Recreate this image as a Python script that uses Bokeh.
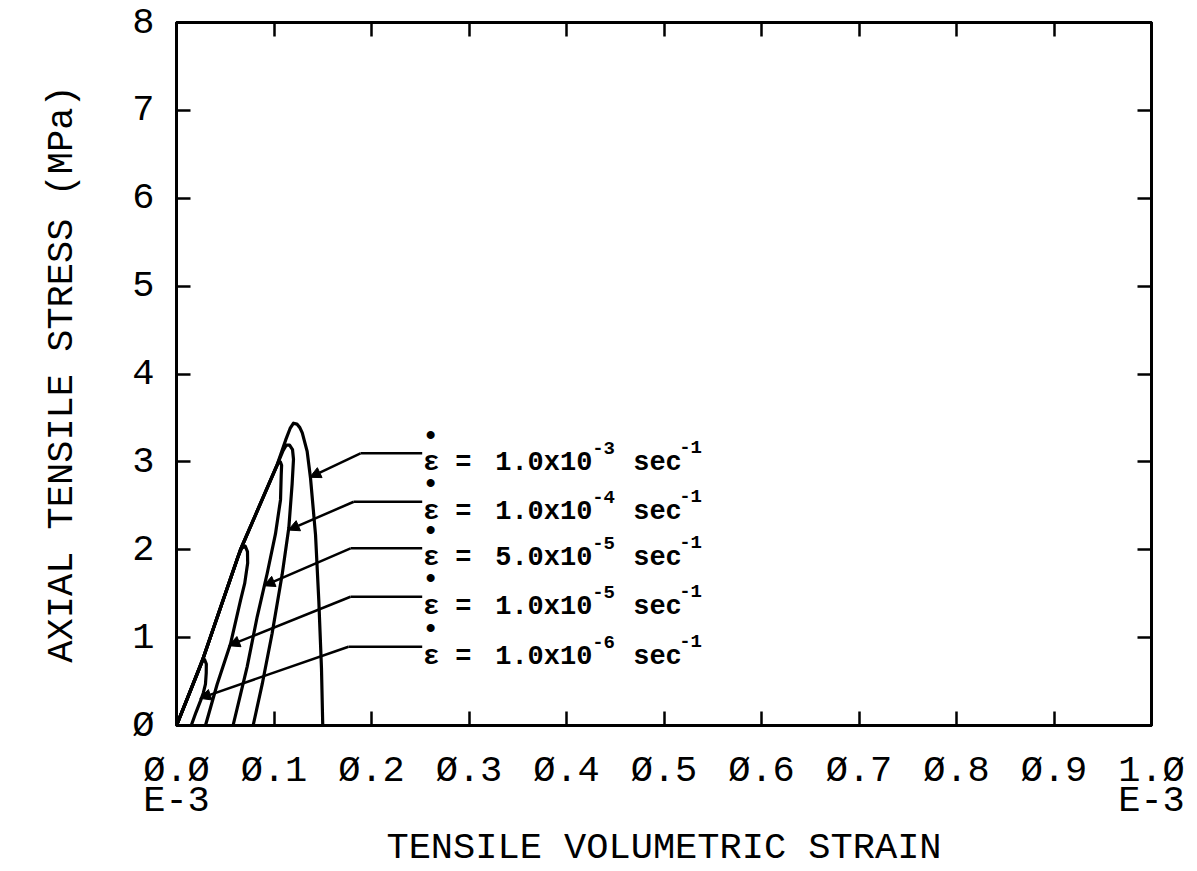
from bokeh.plotting import figure
from bokeh.models import (LinearAxis, FixedTicker, Range1d, Arrow,
                          NormalHead, ColumnDataSource)
from bokeh.core.properties import value
from bokeh.embed import file_html
from bokeh.resources import INLINE

# ---------------- data ----------------
x_ticks = [0.0, 0.1, 0.2, 0.3, 0.4, 0.5, 0.6, 0.7, 0.8, 0.9, 1.0]
x_tick_labels = ["Ø.Ø", "Ø.1", "Ø.2", "Ø.3", "Ø.4", "Ø.5",
                 "Ø.6", "Ø.7", "Ø.8", "Ø.9", "1.Ø"]
x_scale_note = "E-3"
y_ticks = [0, 1, 2, 3, 4, 5, 6, 7, 8]
y_tick_labels = ["Ø", "1", "2", "3", "4", "5", "6", "7", "8"]

# strain (x1e-3) / stress (MPa) loops, one per strain rate
strain_1e3 = [0.0, 0.0263, 0.0656, 0.1033, 0.1120, 0.1165, 0.1200, 0.1235,
              0.1265, 0.1290, 0.1340, 0.1374, 0.1426, 0.1460, 0.1487, 0.1500]
stress_1e3 = [0.0, 0.73, 2.00, 2.97, 3.25, 3.38, 3.44, 3.43,
              3.39, 3.33, 3.12, 2.82, 2.17, 1.41, 0.65, 0.0]

strain_1e4 = [0.0, 0.0263, 0.0656, 0.1033, 0.1090, 0.1125, 0.1160, 0.1190,
              0.1200, 0.1186, 0.1152, 0.1084, 0.0981, 0.0879, 0.0786]
stress_1e4 = [0.0, 0.73, 2.00, 2.97, 3.12, 3.19, 3.19, 3.14,
              3.03, 2.75, 2.25, 1.72, 1.05, 0.47, 0.0]

strain_5e5 = [0.0, 0.0263, 0.0656, 0.1000, 0.1040, 0.1065, 0.1078, 0.1074,
              0.1067, 0.1015, 0.0930, 0.0828, 0.0725, 0.0580]
stress_5e5 = [0.0, 0.73, 2.00, 2.88, 2.98, 3.00, 2.96, 2.85,
              2.57, 2.18, 1.73, 1.24, 0.67, 0.0]

strain_1e5 = [0.0, 0.0263, 0.0450, 0.0630, 0.0670, 0.0705, 0.0728, 0.0730,
              0.0700, 0.0656, 0.0554, 0.0417, 0.0297]
stress_1e5 = [0.0, 0.73, 1.34, 1.92, 2.02, 2.04, 1.98, 1.85,
              1.62, 1.42, 0.93, 0.47, 0.0]

strain_1e6 = [0.0, 0.0120, 0.0235, 0.0262, 0.0288, 0.0306, 0.0305, 0.0297,
              0.0275, 0.0246, 0.0200, 0.0151]
stress_1e6 = [0.0, 0.33, 0.66, 0.74, 0.75, 0.70, 0.60, 0.47,
              0.37, 0.28, 0.15, 0.0]

rate_mantissa = ["1.0", "1.0", "5.0", "1.0", "1.0"]
rate_exponent = ["-3", "-4", "-5", "-5", "-6"]

# leader-line geometry (annotation layout)
label_row_y = [3.097, 2.546, 2.016, 1.465, 0.896]
label_kink_x = [0.1887, 0.1818, 0.1785, 0.1785, 0.1764]
label_end_x = [0.252] * 5
arrow_tip_x = [0.1367, 0.1146, 0.0895, 0.0536, 0.0239]
arrow_tip_y = [2.824, 2.224, 1.590, 0.908, 0.309]

FONT = "Liberation Mono"
AX_SIZE = "37px"
W, H = 1197, 871

# ---------------- figure ----------------
p = figure(width=W, height=H, x_range=Range1d(0, 1.0), y_range=Range1d(0, 8),
           output_backend="svg", toolbar_location=None,
           min_border_left=176, min_border_right=46, min_border_top=22,
           min_border_bottom=146)
p.background_fill_color = "white"
p.border_fill_color = "white"
p.grid.visible = False
p.outline_line_color = "black"
p.outline_line_width = 3

# end tick labels carry the "E-3" multiplier on a second line
x_label_text = list(x_tick_labels)
x_label_text[0] = x_tick_labels[0] + "\n" + x_scale_note
x_label_text[-1] = x_tick_labels[-1] + "\n" + x_scale_note

xa = p.below[0]
xa.ticker = FixedTicker(ticks=x_ticks)
xa.major_label_overrides = dict(zip(x_ticks, x_label_text))
xa.axis_label = "TENSILE VOLUMETRIC STRAIN"

ya = p.left[0]
ya.ticker = FixedTicker(ticks=y_ticks)
ya.major_label_overrides = dict(zip(y_ticks, y_tick_labels))
ya.axis_label = "AXIAL TENSILE STRESS (MPa)"

for ax in (xa, ya):
    ax.axis_line_width = 3
    ax.axis_line_color = "black"
    ax.major_tick_in = 14
    ax.major_tick_out = 0
    ax.major_tick_line_width = 2.5
    ax.major_tick_line_color = "black"
    ax.minor_tick_line_color = None
    ax.major_label_text_font = FONT
    ax.major_label_text_font_size = AX_SIZE
    ax.major_label_text_color = "black"
    ax.axis_label_text_font = FONT
    ax.axis_label_text_font_size = AX_SIZE
    ax.axis_label_text_font_style = "normal"
    ax.axis_label_text_color = "black"

xa.major_label_text_line_height = 0.72
xa.major_label_standoff = 24
xa.axis_label_standoff = 2
ya.major_label_standoff = 22
ya.axis_label_standoff = 46

# mirrored tick axes (top, right)
top = LinearAxis(ticker=FixedTicker(ticks=x_ticks),
                 major_label_overrides={t: "" for t in x_ticks})
right = LinearAxis(ticker=FixedTicker(ticks=y_ticks),
                   major_label_overrides={t: "" for t in y_ticks})
for ax in (top, right):
    ax.axis_line_width = 3
    ax.axis_line_color = "black"
    ax.major_tick_in = 14
    ax.major_tick_out = 0
    ax.major_tick_line_width = 2.5
    ax.major_tick_line_color = "black"
    ax.minor_tick_line_color = None
    ax.major_label_text_font_size = "1px"
    ax.major_label_standoff = 0
p.add_layout(top, "above")
p.add_layout(right, "right")

# curves
for xs, ys in [(strain_1e3, stress_1e3), (strain_1e4, stress_1e4),
               (strain_5e5, stress_5e5), (strain_1e5, stress_1e5),
               (strain_1e6, stress_1e6)]:
    p.line(xs, ys, line_width=3.2, line_color="black", line_join="round", line_cap="round")

# labels and leaders
src = ColumnDataSource(dict(
    ly=label_row_y, kx=label_kink_x, ex=label_end_x,
    tx=arrow_tip_x, ty=arrow_tip_y,
    main=[m + "x10" for m in rate_mantissa], exp=rate_exponent,
))
p.segment(x0="kx", y0="ly", x1="ex", y1="ly", source=src, line_width=2.5,
          line_color="black")
p.add_layout(Arrow(end=NormalHead(size=11, fill_color="black", line_color="black",
                                  line_width=1),
                   x_start="kx", y_start="ly", x_end="tx", y_end="ty",
                   source=src, line_width=2.5, line_color="black"))

common = dict(source=src, text_font=value(FONT), text_font_style="bold",
              text_color="black", text_align="left")
p.text(x="ex", y="ly", text=value("ε"), x_offset=1, y_offset=10,
       text_font_size="27px", text_baseline="alphabetic", **common)
p.text(x="ex", y="ly", text=value("•"), x_offset=0, y_offset=-17,
       text_font_size="28px", text_baseline="middle", **common)
p.text(x="ex", y="ly", text=value("="), x_offset=33, y_offset=10,
       text_font_size="27px", text_baseline="alphabetic", **common)
p.text(x="ex", y="ly", text="main", x_offset=73, y_offset=10,
       text_font_size="27px", text_baseline="alphabetic", **common)
p.text(x="ex", y="ly", text="exp", x_offset=170, y_offset=-5,
       text_font_size="19px", text_baseline="alphabetic", **common)
p.text(x="ex", y="ly", text=value("sec"), x_offset=211, y_offset=10,
       text_font_size="27px", text_baseline="alphabetic", **common)
p.text(x="ex", y="ly", text=value("-1"), x_offset=257, y_offset=-6,
       text_font_size="19px", text_baseline="alphabetic", **common)

open("out.html", "w").write(file_html(p, INLINE))
